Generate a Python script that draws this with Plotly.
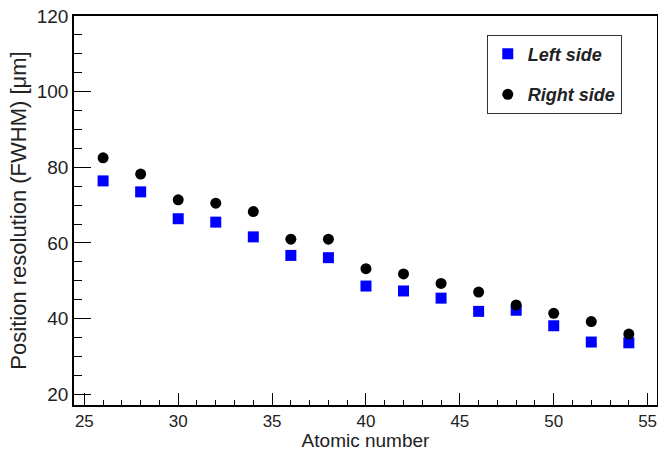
import plotly.graph_objects as go

# Atomic number of each measured beam
atomic_number = [26, 28, 30, 32, 34, 36, 38, 40, 42, 44, 46, 48, 50, 52, 54]

# Position resolution (FWHM) in micrometres
left_side = [76.4, 73.5, 66.4, 65.5, 61.6, 56.7, 56.1, 48.6, 47.3, 45.4, 41.9, 42.2, 38.1, 33.8, 33.6]
right_side = [82.5, 78.2, 71.4, 70.5, 68.3, 61.0, 61.0, 53.2, 51.8, 49.3, 47.0, 43.6, 41.4, 39.2, 35.9]

FONT = "Liberation Sans, Arial, Helvetica, sans-serif"
INK = "#222222"

fig = go.Figure()
fig.add_trace(go.Scatter(
    x=atomic_number, y=left_side, mode="markers", name="Left side",
    legendgroup="left",
    marker=dict(symbol="square", size=11, color="#0000ff", line=dict(width=0)),
))
fig.add_trace(go.Scatter(
    x=atomic_number, y=right_side, mode="markers", name="Right side",
    legendgroup="right",
    marker=dict(symbol="circle", size=11, color="#000000", line=dict(width=0)),
))

axis_common = dict(
    showgrid=False, zeroline=False,
    showline=True, linecolor="#000000", linewidth=1.5, mirror=True,
    ticks="inside", tickcolor="#000000", tickwidth=1.2,
    ticklabeloverflow="allow",
)

fig.update_xaxes(
    range=[24.45, 55.5], tickmode="linear", tick0=25, dtick=5, ticklen=12,
    minor=dict(ticks="inside", dtick=1, ticklen=5, tickcolor="#000000", tickwidth=1.2),
    tickfont=dict(family=FONT, size=17, color=INK),
    title=dict(text="Atomic number", font=dict(family=FONT, size=19, color=INK), standoff=2),
    **axis_common,
)
fig.update_yaxes(
    range=[17.15, 120], tickmode="linear", tick0=20, dtick=20, ticklen=17,
    minor=dict(ticks="inside", dtick=5, ticklen=8, tickcolor="#000000", tickwidth=1.2),
    tickfont=dict(family=FONT, size=19, color=INK),
    title=dict(text="Position resolution (FWHM) [μm]", font=dict(family=FONT, size=22, color=INK), standoff=4),
    **axis_common,
)

fig.update_layout(
    width=658, height=451,
    margin=dict(l=74, r=1, t=16, b=46, autoexpand=False),
    paper_bgcolor="white", plot_bgcolor="white",
    showlegend=True,
    legend=dict(
        x=0.708, y=0.952, xanchor="left", yanchor="top",
        bgcolor="white", bordercolor="#333333", borderwidth=1,
        font=dict(family=FONT, size=18, color=INK, weight="bold", style="italic"),
        tracegroupgap=14, itemwidth=30,
    ),
)

fig.write_html("out.html")
